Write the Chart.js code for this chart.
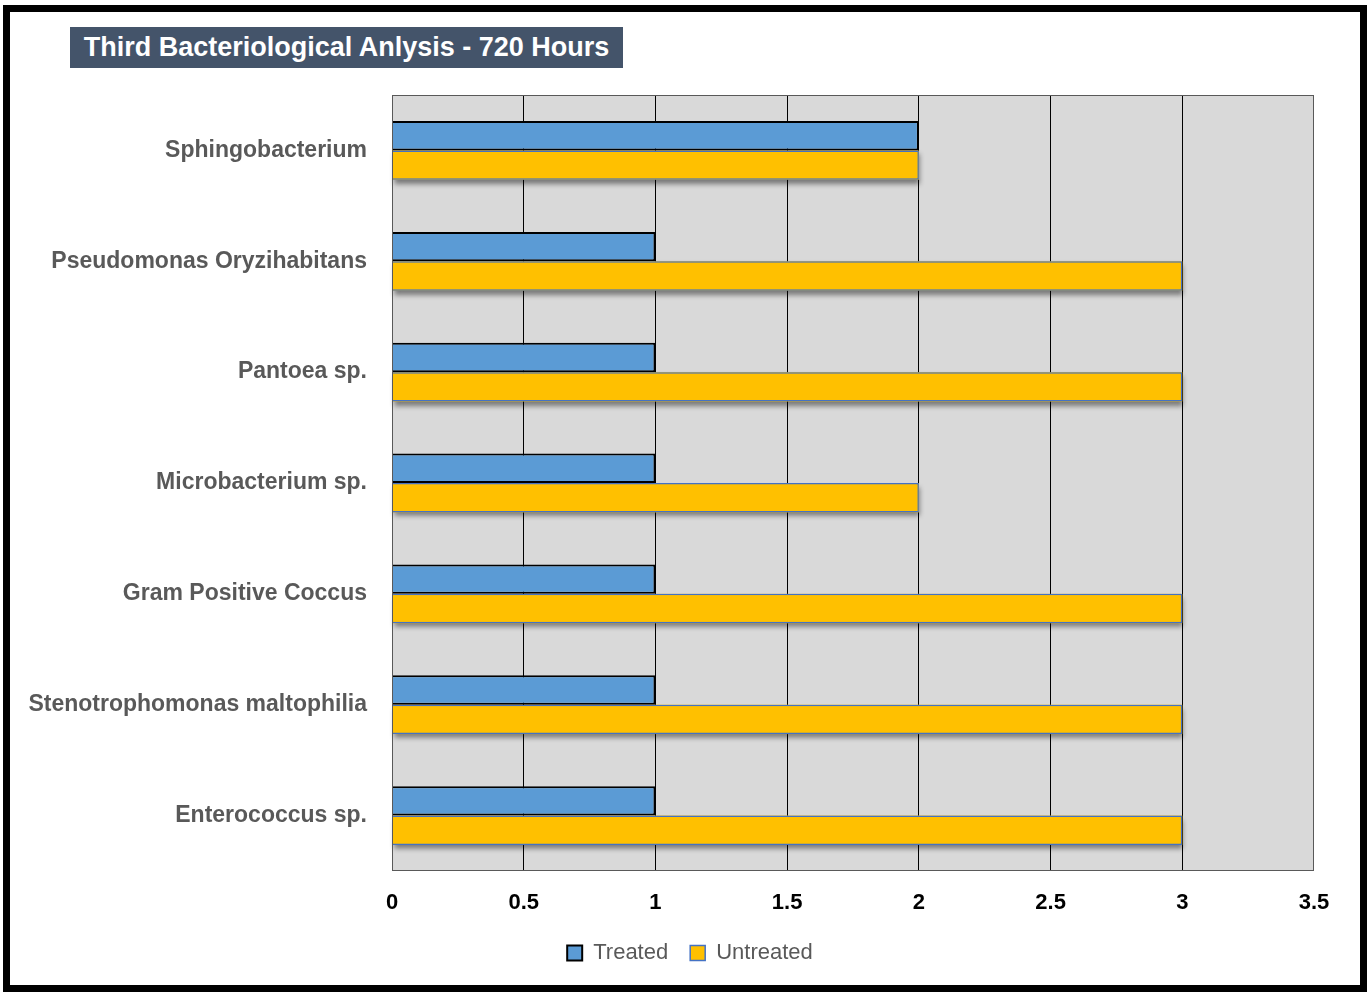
<!DOCTYPE html>
<html>
<head>
<meta charset="utf-8">
<script src="https://cdn.jsdelivr.net/npm/chart.js@4/dist/chart.umd.min.js"></script>
<style>
  body { margin: 0; background: #fff; }
  #wrap { position: relative; width: 1367px; height: 992px; }
  #chart { position: absolute; left: 0; top: 0; }
  #frame { position: absolute; left: 3px; top: 5px; width: 1364px; height: 987px;
           border: 7px solid #000; box-sizing: border-box; pointer-events: none; }
  #title { position: absolute; left: 70px; top: 27px; width: 553px; height: 41px;
           background: #44546a; color: #fff; font: bold 27px "Liberation Sans", Arial, sans-serif;
           line-height: 41px; text-align: center; white-space: nowrap; }
</style>
</head>
<body>
<div id="wrap">
  <canvas id="chart" width="1367" height="992"></canvas>
  <div id="title">Third Bacteriological Anlysis - 720 Hours</div>
  <div id="frame"></div>
</div>
<script>
// veriler
const kategoriler = [
    'Sphingobacterium',
    'Pseudomonas Oryzihabitans',
    'Pantoea sp.',
    'Microbacterium sp.',
    'Gram Positive Coccus',
    'Stenotrophomonas maltophilia',
    'Enterococcus sp.'
];
const treated = [2, 1, 1, 1, 1, 1, 1];
const untreated = [2, 3, 3, 2, 3, 3, 3];
const xTicks = [0, 0.5, 1, 1.5, 2, 2.5, 3, 3.5];

// gri arka plan, çerçeve ve gölge
const plotArka = {
    id: 'plotArka',
    afterLayout(chart) {
        // lejantı biraz sağa kaydır (referanstaki gibi ortalansın)
        chart.legend.left += 33;
        chart.legend.right += 33;
    },
    beforeDraw(chart) {
        const {ctx, chartArea: a} = chart;
        ctx.save();
        ctx.fillStyle = '#d9d9d9';
        ctx.fillRect(a.left, a.top, a.right - a.left, a.bottom - a.top);
        ctx.restore();
    },
    // Untreated barlarının altındaki gölge (bar elemanlarının konumundan)
    beforeDatasetsDraw(chart) {
        const ctx = chart.ctx;
        const meta = chart.getDatasetMeta(1);
        ctx.save();
        ctx.shadowColor = 'rgba(0,0,0,0.45)';
        ctx.shadowOffsetY = 4;
        ctx.shadowOffsetX = 1;
        ctx.shadowBlur = 5;
        ctx.fillStyle = '#ffc000';
        meta.data.forEach(el => {
            const {x, y, base, height} = el.getProps(['x', 'y', 'base', 'height'], true);
            ctx.fillRect(Math.min(base, x), y - height / 2, Math.abs(x - base), height);
        });
        ctx.restore();
    },
    afterDraw(chart) {
        const {ctx, chartArea: a} = chart;
        ctx.save();
        ctx.strokeStyle = '#595959';
        ctx.lineWidth = 1;
        ctx.strokeRect(a.left + 0.5, a.top + 0.5, a.right - a.left - 1, a.bottom - a.top - 1);
        ctx.restore();
    }
};

const ctx = document.getElementById('chart').getContext('2d');
new Chart(ctx, {
    type: 'bar',
    data: {
        labels: kategoriler,
        datasets: [{
            label: 'Treated',
            data: treated,
            backgroundColor: '#5b9bd5',
            borderColor: '#000000',
            borderWidth: 2
        }, {
            label: 'Untreated',
            data: untreated,
            backgroundColor: '#ffc000',
            borderColor: '#4472c4',
            borderWidth: 1.5
        }]
    },
    options: {
        indexAxis: 'y',
        responsive: false,
        animation: false,
        layout: { padding: { top: 95, right: 53, left: 0, bottom: 18 } },
        datasets: { bar: { categoryPercentage: 0.53, barPercentage: 1 } },
        plugins: {
            title: { display: false },
            tooltip: { enabled: false },
            legend: {
                position: 'bottom',
                labels: {
                    boxWidth: 15,
                    boxHeight: 15,
                    padding: 22,
                    color: '#595959',
                    font: { family: 'Liberation Sans', size: 22 }
                }
            }
        },
        scales: {
            x: {
                min: 0,
                max: 3.5,
                afterBuildTicks: s => { s.ticks = xTicks.map(v => ({ value: v })); },
                grid: {
                    color: c => (c.tick && (c.tick.value === 0 || c.tick.value === 3.5)) ? 'rgba(0,0,0,0)' : '#000',
                    lineWidth: 1,
                    drawTicks: false
                },
                border: { display: false },
                ticks: {
                    padding: 19,
                    color: '#000',
                    callback: v => String(v),
                    font: { family: 'Liberation Sans', size: 22, weight: 'bold' }
                },
                afterFit: s => { s.height = 49; }
            },
            y: {
                grid: { display: false, drawTicks: false },
                border: { display: false },
                ticks: {
                    padding: 25,
                    color: '#595959',
                    font: { family: 'Liberation Sans', size: 23, weight: 'bold' }
                },
                afterFit: s => { s.width = 392; }
            }
        }
    },
    plugins: [plotArka]
});
</script>
</body>
</html>
